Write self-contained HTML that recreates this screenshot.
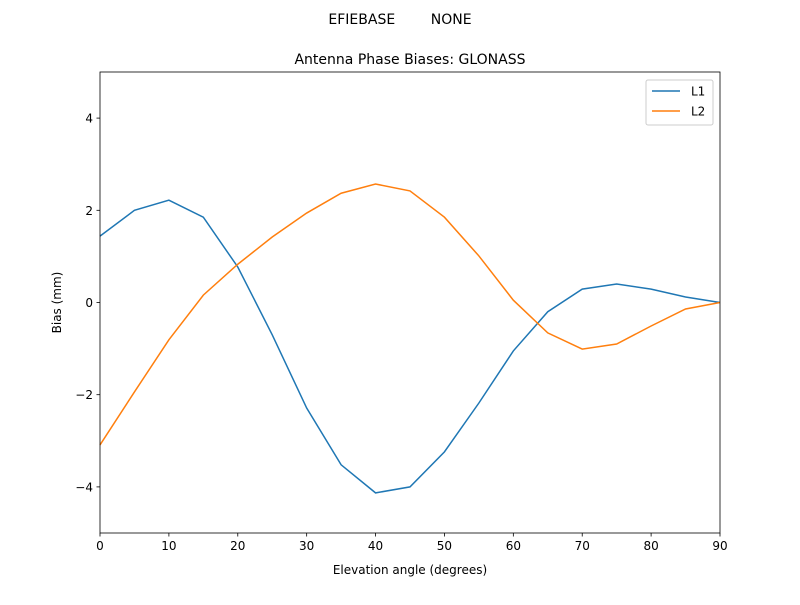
<!DOCTYPE html>
<html><head><meta charset="utf-8"><style>
html,body{margin:0;padding:0;background:#fff;}
svg text{font-family:"DejaVu Sans","Liberation Sans",sans-serif;fill:#000;}
</style></head><body>
<svg id="chart" width="800" height="600" xmlns="http://www.w3.org/2000/svg">
<text x="400" y="24" font-size="14" text-anchor="middle" style="white-space:pre" xml:space="preserve">EFIEBASE        NONE</text>
<text x="410" y="64" font-size="14" text-anchor="middle">Antenna Phase Biases: GLONASS</text>
<g id="plot"></g>
<text x="410" y="574" font-size="12" text-anchor="middle">Elevation angle (degrees)</text>
<text transform="translate(61,302.5) rotate(-90)" font-size="12" text-anchor="middle">Bias (mm)</text>
<g>
<rect x="646" y="80" width="67" height="45" fill="#fff" stroke="#ccc" rx="2"/>
<line x1="652" y1="91" x2="680" y2="91" stroke="#1f77b4" stroke-width="1.5"/>
<text x="691" y="95.5" font-size="12">L1</text>
<line x1="652" y1="111" x2="680" y2="111" stroke="#ff7f0e" stroke-width="1.5"/>
<text x="691" y="115.5" font-size="12">L2</text>
</g>
</svg>
<script>
const elevations=[0,5,10,15,20,25,30,35,40,45,50,55,60,65,70,75,80,85,90];
const l1Values=[1.44,2.0,2.22,1.85,0.77,-0.7,-2.29,-3.52,-4.13,-4.0,-3.24,-2.18,-1.05,-0.2,0.29,0.4,0.29,0.12,0];
const l2Values=[-3.09,-1.94,-0.81,0.16,0.83,1.42,1.94,2.37,2.57,2.42,1.85,1.01,0.05,-0.66,-1.01,-0.9,-0.51,-0.14,0];
const xTicks=[0,10,20,30,40,50,60,70,80,90];
const yTicks=[-4,-2,0,2,4];
const L=100,R=720,T=72,B=533;
const xs=v=>L+(v-0)/(90-0)*(R-L);
const ys=v=>B-(v+5)/10*(B-T);
const ns="http://www.w3.org/2000/svg";
const g=document.getElementById('plot');
function mk(t,a){const e=document.createElementNS(ns,t);for(const k in a)e.setAttribute(k,a[k]);g.appendChild(e);return e;}
function line(vals,color,name){
  const p=mk('polyline',{points:elevations.map((x,i)=>xs(x)+','+ys(vals[i])).join(' '),fill:'none',stroke:color,'stroke-width':1.5});
  
  
}
line(l1Values,'#1f77b4','line-l1');
line(l2Values,'#ff7f0e','line-l2');
const frame=mk('rect',{x:L,y:T,width:R-L,height:B-T,fill:'none',stroke:'#000','stroke-width':0.8});


xTicks.forEach(v=>{
  const t=mk('line',{x1:xs(v),x2:xs(v),y1:B,y2:B+3.5,stroke:'#000','stroke-width':0.8});
  
  
  const l=mk('text',{x:xs(v),y:B+17,'font-size':12,'text-anchor':'middle'});l.textContent=v;
  
  
});
yTicks.forEach(v=>{
  const t=mk('line',{x1:L-3.5,x2:L,y1:ys(v),y2:ys(v),stroke:'#000','stroke-width':0.8});
  
  
  const l=mk('text',{x:L-7,y:ys(v)+4.5,'font-size':12,'text-anchor':'end'});l.textContent=v<0?'\u2212'+Math.abs(v):v;
  
  
});
</script>
</body></html>
